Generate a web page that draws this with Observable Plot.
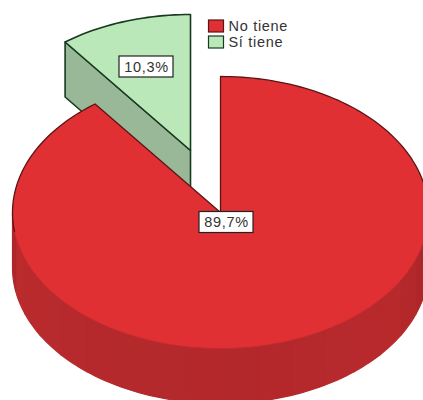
<!DOCTYPE html>
<html>
<head>
<meta charset="utf-8">
<script src="https://cdn.jsdelivr.net/npm/d3@7"></script>
<script src="https://cdn.jsdelivr.net/npm/@observablehq/plot@0.6"></script>
<style>
  html, body { margin: 0; padding: 0; background: #fff; }
  svg { display: block; }
</style>
</head>
<body>
<div id="chart"></div>
<script>
// Share of respondents per answer
const categories = ["No tiene", "Sí tiene"];
const shares = [89.7, 10.3];
const shareLabels = ["89,7%", "10,3%"];

// Slice colours: top face, side wall, outline
const topColors = ["#e03033", "#bae8b9"];
const wallColors = ["#b5292c", "#98b898"];
const outlineColors = ["#5c1416", "#17391f"];

// Tilted pie geometry, in chart units
const W = 423, H = 400;
const center = {x: 220, y: 212};
const radiusX = 208, radiusY = 136, depth = 55;
const explode = {x: -30, y: -62};

const deg = 360 / d3.sum(shares);
const sweep = shares[0] * deg;          // first slice runs clockwise from 12 o'clock
const rim = (a, o = {x: 0, y: 0}, dy = 0) => ({
  x: center.x + o.x + radiusX * Math.sin(a * Math.PI / 180),
  y: center.y + o.y + dy - radiusY * Math.cos(a * Math.PI / 180)
});
const arc = (a0, a1, o, dy) => {
  const n = Math.max(2, Math.ceil(Math.abs(a1 - a0) / 1.5));
  return d3.range(n + 1).map(i => rim(a0 + (a1 - a0) * i / n, o, dy));
};
const apex = (o = {x: 0, y: 0}, dy = 0) => ({x: center.x + o.x, y: center.y + o.y + dy});
const tag = (pts, id, color) => pts.map(p => ({...p, id, color}));

// Red side wall: narrow vertical bands with a slight change in shade
const wallShade = d3.scaleLinear()
  .domain([90, 125, 170, 220, 255, 270])
  .range(["#a52427", "#b8292c", "#b3282b", "#b5292c", "#ba2b2e", "#a82528"]);
const wallBands = [];
d3.range(90, 270, 10).forEach(a => {
  const top = arc(a, a + 10);
  const bottom = arc(a + 10, a, undefined, depth);
  wallBands.push(...tag([...top, ...bottom, top[0]], "band" + a, wallShade(a + 5)));
});

// Green slice, pulled away from the pie
const greenA0 = sweep, greenA1 = 360;
const greenTop = [apex(explode), ...arc(greenA0, greenA1, explode), apex(explode)];
const greenEdge = rim(greenA0, explode);
const greenWall = [
  apex(explode), greenEdge,
  {x: greenEdge.x, y: greenEdge.y + depth},
  apex(explode, depth), apex(explode)
];

// Red slice: top face and its upper outline
const redTop = [apex(), ...arc(0, sweep), apex()];
const redOutline = [...arc(100, 0), apex(), ...arc(sweep, 262)];
const redRimLow = arc(100, 262);

// Value labels with their boxes
const labelBoxes = [
  {label: shareLabels[0], x: 226, y: 222, w: 54, h: 21},
  {label: shareLabels[1], x: 146, y: 66.5, w: 54, h: 21}
];

// Legend entries
const legendRows = categories.map((name, i) => ({
  name, fill: topColors[i], stroke: outlineColors[i], y: 26 + 16 * i
}));

const plot = Plot.plot({
  width: W, height: H, margin: 0,
  x: {domain: [0, W], range: [0, W], axis: null},
  y: {domain: [0, H], range: [0, H], axis: null},
  color: {type: "identity"},
  style: {background: "#fff", overflow: "hidden", letterSpacing: "0.7px"},
  marks: [
    Plot.line(greenWall, {x: "x", y: "y", fill: wallColors[1], stroke: outlineColors[1], strokeWidth: 1.6}),
    Plot.line(greenTop, {x: "x", y: "y", fill: topColors[1], stroke: outlineColors[1], strokeWidth: 1.6}),
    Plot.line(wallBands, {x: "x", y: "y", z: "id", fill: "color", stroke: "color", strokeWidth: 1.2}),
    Plot.line(redTop, {x: "x", y: "y", fill: topColors[0], stroke: "none"}),
    Plot.line(redRimLow, {x: "x", y: "y", stroke: "#c22b2e", strokeWidth: 1}),
    Plot.line(redOutline, {x: "x", y: "y", stroke: outlineColors[0], strokeWidth: 1.3}),
    Plot.rect(labelBoxes, {
      x1: d => d.x - d.w / 2, x2: d => d.x + d.w / 2,
      y1: d => d.y - d.h / 2, y2: d => d.y + d.h / 2,
      fill: "#fff", stroke: "#222", strokeWidth: 1.2
    }),
    Plot.text(labelBoxes, {
      x: "x", y: "y", text: "label", fill: "#333",
      fontFamily: "Liberation Sans", fontSize: 14.5
    }),
    Plot.rect(legendRows, {
      x1: 208.5, x2: 223.5,
      y1: d => d.y - 6, y2: d => d.y + 6,
      fill: "fill", stroke: "stroke", strokeWidth: 1.2
    }),
    Plot.text(legendRows, {
      x: 228, y: "y", text: "name", textAnchor: "start", fill: "#333",
      fontFamily: "Liberation Sans", fontSize: 14.5
    })
  ]
});
document.getElementById("chart").append(plot);
</script>
</body>
</html>
